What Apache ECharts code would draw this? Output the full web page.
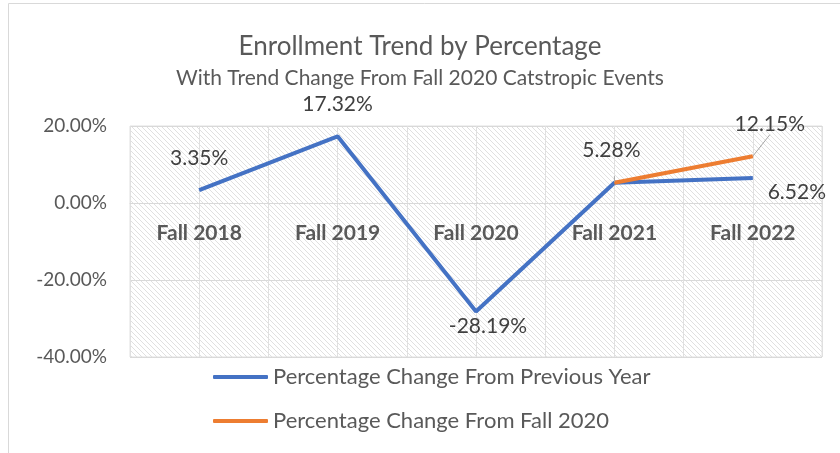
<!DOCTYPE html>
<html>
<head>
<meta charset="utf-8">
<script src="https://cdn.jsdelivr.net/npm/echarts@6/dist/echarts.min.js"></script>
<style>
  html, body { margin: 0; padding: 0; background: #fff; }
  #chart { width: 840px; height: 453px; }
</style>
</head>
<body>
<div id="chart"></div>
<script>
// data
var categories = ['Fall 2018', 'Fall 2019', 'Fall 2020', 'Fall 2021', 'Fall 2022'];
var prevYear = [3.35, 17.32, -28.19, 5.28, 6.52];
var fromFall2020 = [null, null, null, 5.28, 12.15];
var yTicks = [-40, -20, 0, 20];

// hatch pattern for the plot area
function makeHatch() {
  var c = document.createElement('canvas');
  c.width = 5; c.height = 5;
  var ctx = c.getContext('2d');
  ctx.strokeStyle = '#e0e0e0';
  ctx.lineWidth = 1;
  ctx.beginPath();
  ctx.moveTo(-1, -1); ctx.lineTo(6, 6);
  ctx.moveTo(-1, 4); ctx.lineTo(1, 6);
  ctx.moveTo(4, -1); ctx.lineTo(6, 1);
  ctx.stroke();
  return c;
}

var chart = echarts.init(document.getElementById('chart'));
var font = 'Lato, "Open Sans", sans-serif';

chart.setOption({
  animation: false,
  textStyle: { fontFamily: font },
  title: [{
    text: 'Enrollment Trend by Percentage',
    left: 'center',
    top: 29,
    textStyle: { fontSize: 26, fontWeight: 'normal', color: '#595959', fontFamily: font }
  }, {
    text: 'With Trend Change From Fall 2020 Catstropic Events',
    left: 'center',
    top: 63,
    textStyle: { fontSize: 21, fontWeight: 'normal', color: '#595959', fontFamily: font }
  }],
  graphic: [{
    type: 'rect',
    shape: { x: 8.5, y: 3.5, width: 900, height: 500 },
    style: { fill: 'none', stroke: '#d9d9d9', lineWidth: 1 },
    silent: true
  }],
  grid: {
    left: 130, right: 18, top: 126, bottom: 96,
    show: true,
    backgroundColor: { image: makeHatch(), repeat: 'repeat' },
    borderColor: '#e0e0e0',
    borderWidth: 1
  },
  legend: {
    orient: 'vertical',
    left: 208,
    top: 361,
    itemGap: 22,
    icon: 'roundRect',
    itemWidth: 55,
    itemHeight: 4,
    textStyle: { fontSize: 22, color: '#595959', fontFamily: font },
    data: ['Percentage Change From Previous Year', 'Percentage Change From Fall 2020']
  },
  xAxis: [{
    type: 'category',
    data: categories,
    boundaryGap: true,
    position: 'bottom',
    offset: -154,   // sits on the 0% line
    axisLine: { onZero: false, lineStyle: { color: '#d9d9d9' } },
    axisTick: { show: false },
    axisLabel: { fontSize: 21, fontWeight: 'bold', color: '#595959', margin: 20 },
    splitLine: { show: false }
  }, {
    type: 'value',
    position: 'top',
    min: 0, max: 10, interval: 1,
    axisLine: { show: false },
    axisTick: { show: false },
    axisLabel: { show: false },
    splitLine: { show: true, lineStyle: { color: '#e0e0e0' } }
  }],
  yAxis: {
    type: 'value',
    min: yTicks[0],
    max: yTicks[yTicks.length - 1],
    interval: 20,
    axisLine: { show: false },
    axisTick: { show: false },
    axisLabel: {
      fontSize: 19, color: '#595959', margin: 23,
      formatter: function (v) { return v.toFixed(2) + '%'; }
    },
    splitLine: { lineStyle: { color: '#d9d9d9' } }
  },
  series: [{
    name: 'Percentage Change From Previous Year',
    type: 'line',
    xAxisIndex: 0,
    data: prevYear,
    symbol: 'circle',
    symbolSize: 1,
    z: 2,
    lineStyle: { color: '#4472C4', width: 4 },
    itemStyle: { color: '#4472C4' },
    label: {
      show: true,
      fontSize: 21,
      color: '#404040',
      formatter: function (p) { return p.value.toFixed(2) + '%'; },
      position: 'top',
      distance: 21
    },
    labelLayout: function (p) {
      if (p.dataIndex === 2) return { dx: 12, dy: 47 };
      if (p.dataIndex === 3) return { dx: -3 };
      if (p.dataIndex === 4) return { dx: 44, dy: 46 };
      return {};
    }
  }, {
    name: 'Percentage Change From Fall 2020',
    type: 'line',
    xAxisIndex: 0,
    data: fromFall2020,
    symbol: 'circle',
    symbolSize: 1,
    z: 3,
    lineStyle: { color: '#ED7D31', width: 4 },
    itemStyle: { color: '#ED7D31' },
    label: {
      show: true,
      fontSize: 21,
      color: '#404040',
      position: 'top',
      distance: 6,
      formatter: function (p) {
        return p.dataIndex === 4 ? p.value.toFixed(2) + '%' : '';
      }
    },
    labelLayout: function (p) {
      if (p.dataIndex === 4) return { dx: 17, dy: -15 };
      return {};
    },
    labelLine: { show: true, lineStyle: { color: '#a6a6a6', width: 1 } }
  }]
});
</script>
</body>
</html>
